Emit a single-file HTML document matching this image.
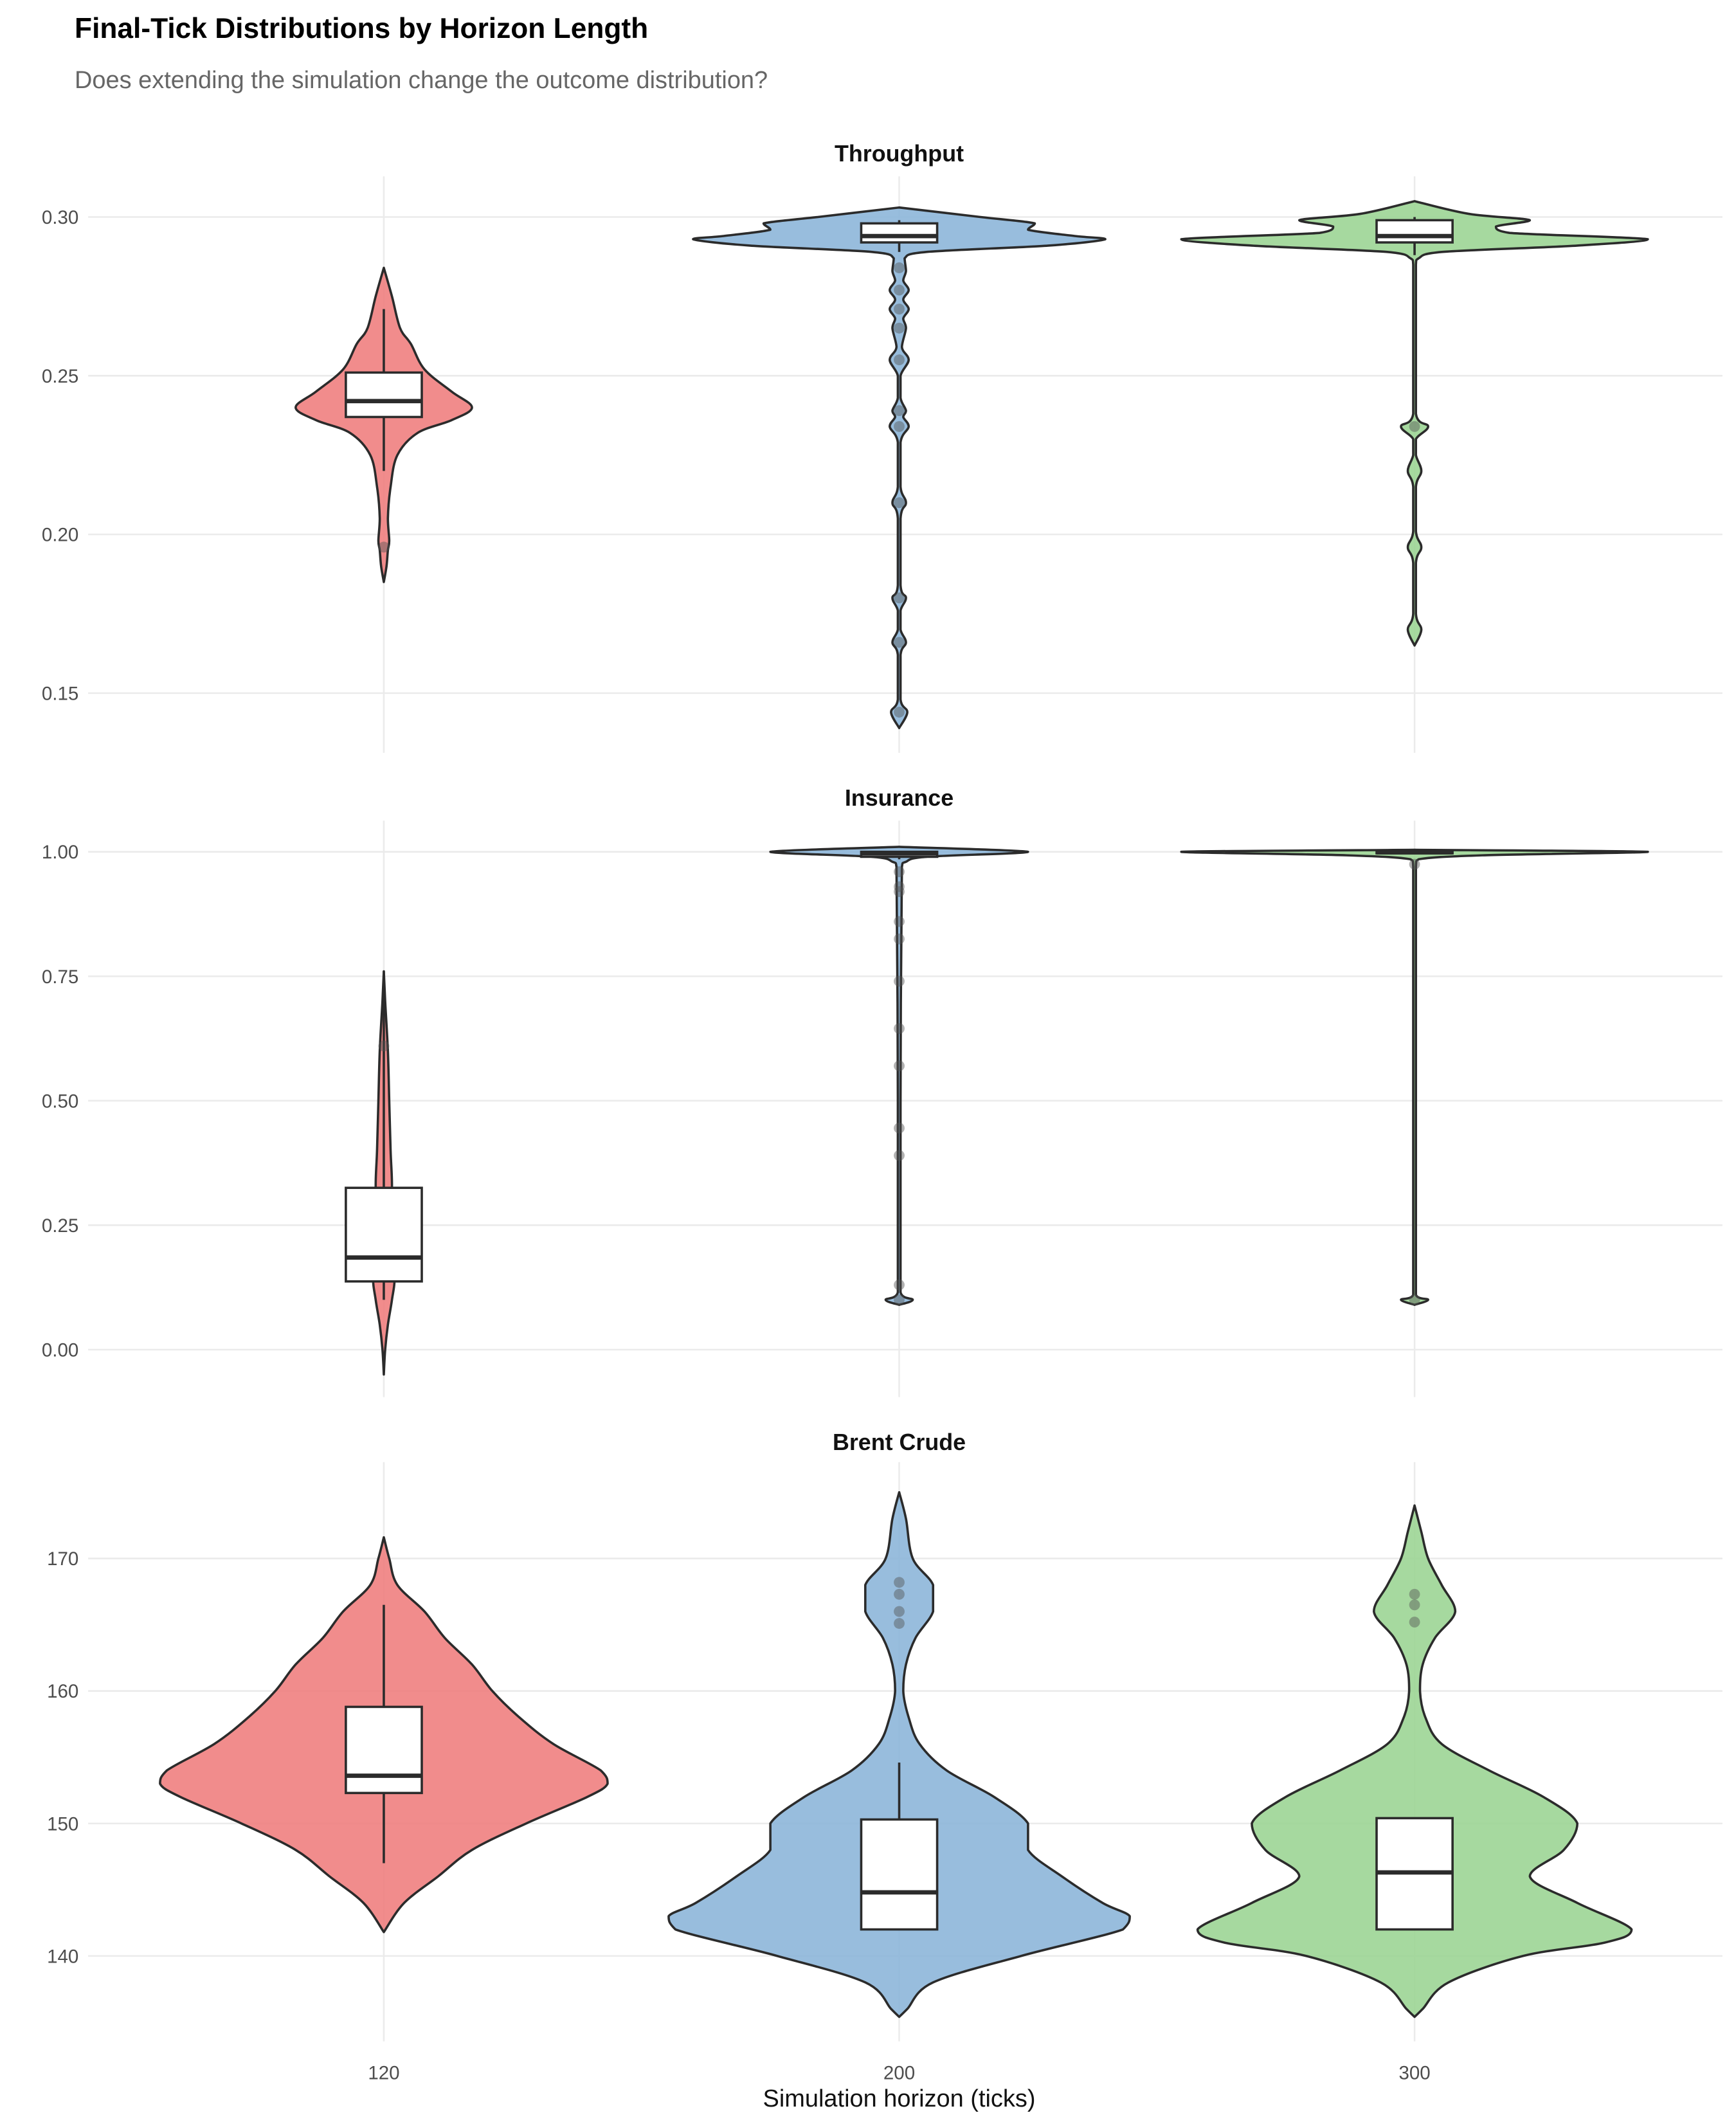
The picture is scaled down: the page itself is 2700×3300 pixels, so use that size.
<!DOCTYPE html>
<html><head><meta charset="utf-8"><style>
html,body{margin:0;padding:0;background:#fff;}
svg{display:block;font-family:"Liberation Sans",Arial,sans-serif;}
</style></head><body>
<svg id="chart" width="2700" height="3300" viewBox="0 0 1280 1564.44" xmlns="http://www.w3.org/2000/svg">
<text x="55" y="28" font-size="21" font-weight="bold" fill="#000">Final-Tick Distributions by Horizon Length</text>
<text x="55" y="65" font-size="18" fill="#666">Does extending the simulation change the outcome distribution?</text>
<text x="663" y="1553" font-size="18" text-anchor="middle" fill="#111">Simulation horizon (ticks)</text>
</svg>
<script>
const categories = ["120","200","300"];
const colors = ["#F08080","#8DB6D9","#9CD595"];
const panelTitles = ["Throughput","Insurance","Brent Crude"];
const yTicks0 = [0.15,0.20,0.25,0.30];
const yTickLabels0 = ["0.15","0.20","0.25","0.30"];
const yTicks1 = [0,0.25,0.5,0.75,1];
const yTickLabels1 = ["0.00","0.25","0.50","0.75","1.00"];
const yTicks2 = [140,150,160,170];
const yTickLabels2 = ["140","150","160","170"];
// violin profiles: [value, relative density]
const thr120 = [[0.185,0],[0.19,2],[0.195,3],[0.198,4],[0.205,3],[0.215,5],[0.225,10],[0.232,25],[0.236,50],[0.240,65],[0.245,50],[0.252,30],[0.26,20],[0.265,12],[0.275,6],[0.284,0]];
const thr200 = [[0.139,0],[0.144,6],[0.148,1],[0.162,1],[0.166,5],[0.170,1],[0.176,1],[0.180,5],[0.184,1],[0.205,1],[0.210,5],[0.215,1],[0.229,1],[0.234,7],[0.237,3],[0.239,5],[0.243,1],[0.250,1],[0.255,7],[0.259,2],[0.265,5],[0.268,3],[0.271,7],[0.274,3],[0.277,7],[0.280,3],[0.283,5],[0.287,4],[0.289,20],[0.291,110],[0.293,152],[0.294,130],[0.296,95],[0.298,100],[0.300,60],[0.303,0]];
const thr300 = [[0.165,0],[0.17,5],[0.175,1],[0.191,1],[0.196,5],[0.201,1],[0.215,1],[0.22,5],[0.225,1],[0.230,1],[0.234,10],[0.238,1],[0.285,1],[0.287,3],[0.289,20],[0.291,120],[0.293,172],[0.295,70],[0.297,60],[0.299,85],[0.301,40],[0.305,0]];
const ins120 = [[-0.05,0],[0,1],[0.05,3],[0.1,6],[0.15,8],[0.25,5],[0.33,6],[0.4,5],[0.5,4],[0.6,3],[0.7,1],[0.76,0]];
const ins200 = [[0.09,0],[0.10,10],[0.115,1],[0.5,1],[0.97,2],[0.98,5],[0.99,20],[1.0,95],[1.01,0]];
const ins300 = [[0.09,0],[0.10,10],[0.11,1],[0.97,1],[0.985,3],[0.993,50],[1.0,172],[1.004,0]];
const br120 = [[141.8,0],[144,15],[146,40],[148,65],[150,105],[152,150],[153,165],[154,160],[156,125],[158,100],[160,80],[162,65],[164,45],[166,30],[168,10],[170,4],[171.6,0]];
const br200 = [[135.4,0],[136,6],[138,25],[140,90],[142,165],[143,170],[144,150],[146,120],[148,95],[150,95],[152,70],[154,35],[156,15],[158,7],[160,3],[162,5],[164,12],[166,25],[168,25],[170,10],[173,5],[175,0]];
const br300 = [[135.4,0],[136,6],[138,25],[140,80],[141,140],[142,160],[144,120],[146,85],[148,110],[150,120],[152,95],[154,55],[156,20],[158,8],[160,4],[162,6],[164,15],[166,30],[168,20],[170,10],[172,5],[174,0]];
// boxes: [lowWhisker, q1, median, q3, highWhisker]
const thrBox = [[0.220,0.237,0.242,0.251,0.271],[0.289,0.292,0.294,0.298,0.299],[0.288,0.292,0.294,0.299,0.300]];
const insBox = [[0.10,0.137,0.185,0.325,0.76],[0.985,0.99,0.997,1.0,1.0],[0.995,0.997,0.999,1.0,1.0]];
const brBox = [[147,152.3,153.6,158.8,166.5],[142,142,144.8,150.3,154.6],[142,142,146.3,150.4,150.4]];
// outliers
const thrOut = [[0.196],[0.284,0.277,0.271,0.265,0.255,0.239,0.234,0.210,0.180,0.166,0.144],[0.234]];
const insOut = [[0.61],[0.96,0.93,0.92,0.86,0.825,0.74,0.645,0.57,0.445,0.39,0.13,0.10],[0.975,0.10]];
const brOut = [[],[168.2,167.3,166.0,165.1],[167.3,166.5,165.2]];

const NS="http://www.w3.org/2000/svg";
const svg=document.getElementById('chart');
function mk(tag,attrs,parent){const e=document.createElementNS(NS,tag);for(const k in attrs)e.setAttribute(k,attrs[k]);(parent||svg).appendChild(e);return e;}
const xPos = i => 283 + i*380;
const panels = [
 {title:panelTitles[0],top:130,bot:555,v0:0.30,y0:160,v1:0.15,y1:511,ticks:yTicks0,labels:yTickLabels0,viol:[thr120,thr200,thr300],box:thrBox,out:thrOut,ty:119},
 {title:panelTitles[1],top:605,bot:1030,v0:1,y0:628,v1:0,y1:995,ticks:yTicks1,labels:yTickLabels1,viol:[ins120,ins200,ins300],box:insBox,out:insOut,ty:594},
 {title:panelTitles[2],top:1078,bot:1505,v0:170,y0:1149,v1:140,y1:1442,ticks:yTicks2,labels:yTickLabels2,viol:[br120,br200,br300],box:brBox,out:brOut,ty:1069}
];
const clamp=(v,a,b)=>Math.min(Math.max(a,b),Math.max(Math.min(a,b),v));
function smoothPath(pts){
  let d='M'+pts[0][0]+','+pts[0][1];
  for(let i=0;i<pts.length-1;i++){
    const p0=pts[Math.max(0,i-1)],p1=pts[i],p2=pts[i+1],p3=pts[Math.min(pts.length-1,i+2)];
    let c1=[p1[0]+(p2[0]-p0[0])/6,p1[1]+(p2[1]-p0[1])/6];
    let c2=[p2[0]-(p3[0]-p1[0])/6,p2[1]-(p3[1]-p1[1])/6];
    c1=[clamp(c1[0],p1[0],p2[0]),clamp(c1[1],p1[1],p2[1])];
    c2=[clamp(c2[0],p1[0],p2[0]),clamp(c2[1],p1[1],p2[1])];
    d+=' C'+c1[0].toFixed(2)+','+c1[1].toFixed(2)+' '+c2[0].toFixed(2)+','+c2[1].toFixed(2)+' '+p2[0].toFixed(2)+','+p2[1].toFixed(2);
  }
  return d;
}
panels.forEach((p,pi)=>{
  const y = v => p.y0 + (v-p.v0)*(p.y1-p.y0)/(p.v1-p.v0);
  const g=mk('g',{});
  
  
  const t=mk('text',{x:663,y:p.ty,'font-size':17,'font-weight':'bold','text-anchor':'middle',fill:'#111'},g);
  
  
  t.textContent=p.title;
  p.ticks.forEach((v,i)=>{
    const l=mk('line',{x1:65,x2:1270,y1:y(v),y2:y(v),stroke:'#ebebeb','stroke-width':1.2},g);
    
    
    const tl=mk('text',{x:58,y:y(v)+5,'font-size':14,'text-anchor':'end',fill:'#4d4d4d'},g);
    
    
    tl.textContent=p.labels[i];
  });
  categories.forEach((c,i)=>{
    const l=mk('line',{x1:xPos(i),x2:xPos(i),y1:p.top,y2:p.bot,stroke:'#ebebeb','stroke-width':1.2},g);
    
    
  });
  categories.forEach((c,i)=>{
    const cx=xPos(i);const prof=p.viol[i];
    const right=prof.map(q=>[cx+q[1],y(q[0])]);
    const left=prof.slice().reverse().map(q=>[cx-q[1],y(q[0])]);
    const d=smoothPath(right)+' L'+smoothPath(left).slice(1)+' Z';
    const v=mk('path',{d:d,fill:colors[i],'fill-opacity':0.9,stroke:'#2b2b2b','stroke-width':1.7,'stroke-linejoin':'round'},g);
    
    
    const b=p.box[i];
    const w=mk('line',{x1:cx,x2:cx,y1:y(b[0]),y2:y(b[4]),stroke:'#2b2b2b','stroke-width':1.7},g);
    
    
    const r=mk('rect',{x:cx-28,width:56,y:y(b[3]),height:Math.max(1,y(b[1])-y(b[3])),fill:'#fff',stroke:'#2b2b2b','stroke-width':1.7},g);
    
    
    const m=mk('line',{x1:cx-28,x2:cx+28,y1:y(b[2]),y2:y(b[2]),stroke:'#2b2b2b','stroke-width':3.2},g);
    
    
    p.out[i].forEach(o=>{
      const pt=mk('circle',{cx:cx,cy:y(o),r:4,fill:'#555','fill-opacity':0.45},g);
      
      
    });
  });
  if(pi===2){
    categories.forEach((c,i)=>{
      const tl=mk('text',{x:xPos(i),y:1533,'font-size':14,'text-anchor':'middle',fill:'#4d4d4d'},g);
      
      
      tl.textContent=c;
    });
  }
});
</script>
</body></html>
